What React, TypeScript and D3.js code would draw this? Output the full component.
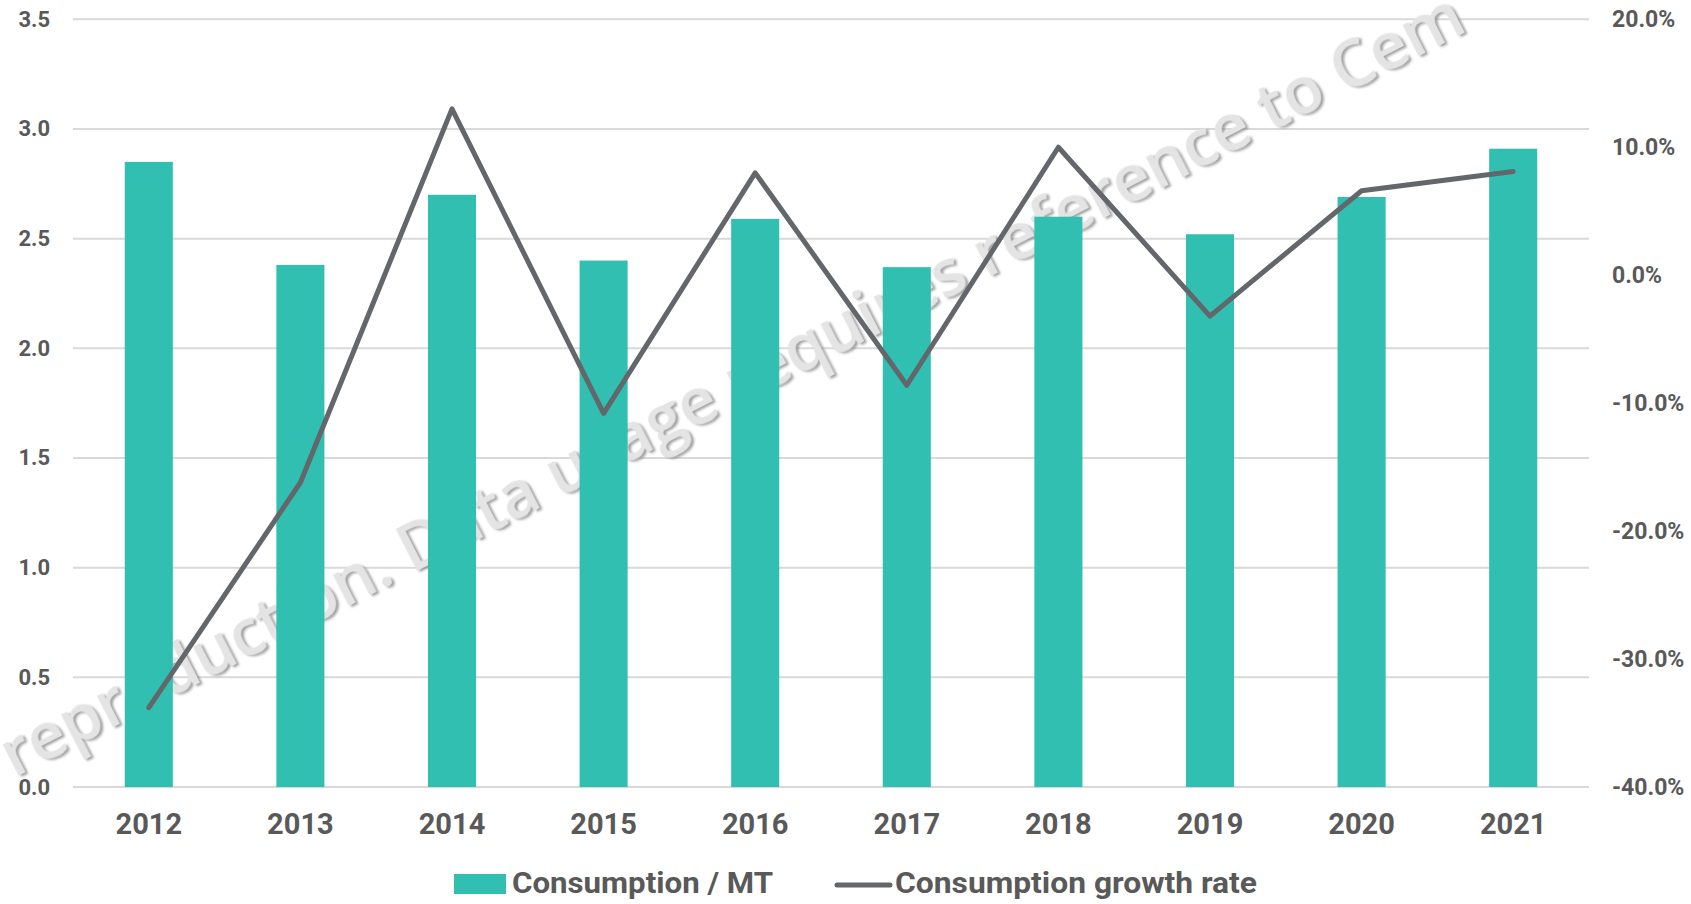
import React from 'react';
import * as d3 from 'd3';

const years = ['2012', '2013', '2014', '2015', '2016', '2017', '2018', '2019', '2020', '2021'];
const consumption = [2.85, 2.38, 2.7, 2.4, 2.59, 2.37, 2.6, 2.52, 2.69, 2.91];
const growthRate = [-0.338, -0.162, 0.13, -0.108, 0.08, -0.086, 0.1, -0.032, 0.066, 0.081];
const leftTicks = [0, 0.5, 1, 1.5, 2, 2.5, 3, 3.5];
const rightTicks = [-0.4, -0.3, -0.2, -0.1, 0, 0.1, 0.2];
const legendLabels = ['Consumption / MT', 'Consumption growth rate'];
const watermark = 'reproduction. Data usage requires reference to Cem';

export default function App() {
  const width = 1691;
  const height = 904;
  const margin = { top: 19.3, right: 102, bottom: 117, left: 73 };
  const labelColor = '#595959';
  const barColor = '#31bfb1';
  const lineColor = '#63666a';

  // scales
  const x = d3
    .scaleBand()
    .domain(years)
    .range([margin.left, width - margin.right])
    .paddingInner(0.683)
    .paddingOuter(0.3415);

  const yLeft = d3
    .scaleLinear()
    .domain([0, 3.5])
    .range([height - margin.bottom, margin.top]);

  const yRight = d3
    .scaleLinear()
    .domain([-0.4, 0.2])
    .range([height - margin.bottom, margin.top]);

  const line = d3
    .line<number>()
    .x((_, i) => (x(years[i]) as number) + x.bandwidth() / 2)
    .y((d) => yRight(d));

  // hyphen instead of d3's unicode minus
  const pct = (v: number) => d3.format('.1%')(v).replace('\u2212', '-');

  return (
    <svg
      width={width}
      height={height}
      style={{ position: 'absolute', left: 0, top: 0, background: '#fff' }}
      fontFamily="Roboto, sans-serif"
      fontWeight="bold"
    >
      <defs>
        <filter id="wmShadow" x="-5%" y="-5%" width="110%" height="110%">
          <feDropShadow dx="2" dy="2.5" stdDeviation="1.2" floodColor="#8a8a8a" floodOpacity="0.8" />
        </filter>
      </defs>

      {/* grid lines */}
      {leftTicks.map((t) => (
        <line
          key={t}
          x1={margin.left}
          x2={width - margin.right}
          y1={yLeft(t)}
          y2={yLeft(t)}
          stroke="#d9d9d9"
          strokeWidth={2}
        />
      ))}

      {/* watermark */}
      <text
        transform="translate(14,778) rotate(-27.2)"
        fontFamily="'Open Sans', sans-serif"
        fontWeight={600}
        fontSize={65}
        fill="#e4e4e4"
        filter="url(#wmShadow)"
      >
        {watermark}
      </text>

      {/* bars */}
      {consumption.map((d, i) => (
        <rect
          key={years[i]}
          x={x(years[i])}
          y={yLeft(d)}
          width={x.bandwidth()}
          height={yLeft(0) - yLeft(d)}
          fill={barColor}
        />
      ))}

      {/* growth line */}
      <path
        d={line(growthRate) || ''}
        fill="none"
        stroke={lineColor}
        strokeWidth={5}
        strokeLinecap="round"
        strokeLinejoin="round"
      />

      {/* left axis labels */}
      {leftTicks.map((t) => (
        <text key={t} x={50} y={yLeft(t) + 7.5} textAnchor="end" fontSize={22} fill={labelColor}>
          {t.toFixed(1)}
        </text>
      ))}

      {/* right axis labels */}
      {rightTicks.map((t) => (
        <text key={t} x={1612} y={yRight(t) + 8} textAnchor="start" fontSize={23} fill={labelColor}>
          {pct(t)}
        </text>
      ))}

      {/* x axis labels */}
      {years.map((yr) => (
        <text
          key={yr}
          x={(x(yr) as number) + x.bandwidth() / 2}
          y={834}
          textAnchor="middle"
          fontSize={29}
          fill={labelColor}
        >
          {yr}
        </text>
      ))}

      {/* legend */}
      <rect x={454} y={874} width={52} height={20} fill={barColor} />
      <text x={512} y={893} fontSize={30} fill={labelColor} textLength={261} lengthAdjust="spacingAndGlyphs">
        {legendLabels[0]}
      </text>
      <line x1={837} x2={890} y1={885} y2={885} stroke={lineColor} strokeWidth={5} strokeLinecap="round" />
      <text x={895} y={893} fontSize={30} fill={labelColor} textLength={362} lengthAdjust="spacingAndGlyphs">
        {legendLabels[1]}
      </text>
    </svg>
  );
}
